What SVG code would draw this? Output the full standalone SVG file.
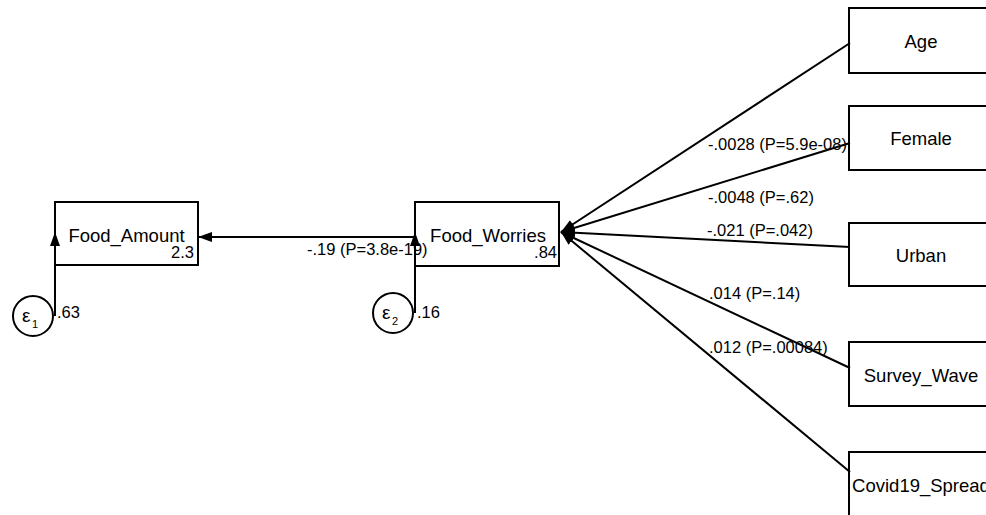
<svg xmlns="http://www.w3.org/2000/svg" width="986" height="515" viewBox="0 0 986 515">
<style>
.box{fill:#fff;stroke:#000;stroke-width:2}
.err{fill:#fff;stroke:#000;stroke-width:2}
.lbl{font-family:"Liberation Sans",Arial,sans-serif;font-size:18.5px;fill:#000;text-anchor:middle}
.num{font-family:"Liberation Sans",Arial,sans-serif;font-size:16.5px;fill:#000}
.edge{stroke:#000;stroke-width:2;fill:none;marker-end:url(#ah)}
.eps{font-family:"Liberation Sans",Arial,sans-serif;font-size:19px;fill:#000}
.sub{font-family:"Liberation Sans",Arial,sans-serif;font-size:11px;fill:#000}
</style>
<defs>
<marker id="ah" viewBox="0 0 14 10" refX="14" refY="5" markerWidth="14" markerHeight="10" markerUnits="userSpaceOnUse" orient="auto">
<path d="M0,0 L14,5 L0,10 Z" fill="#000"/>
</marker>
</defs>
<rect width="986" height="515" fill="#fff"/>
<g id="Food_Amount">
<rect class="box" x="55" y="202" width="143" height="63"/>
<text class="lbl" x="126.5" y="242">Food_Amount</text>
<text class="num" x="194" y="258" text-anchor="end">2.3</text>
</g>
<g id="Food_Worries">
<rect class="box" x="415" y="202" width="144" height="64"/>
<text class="lbl" x="488" y="242">Food_Worries</text>
<text class="num" x="557" y="258" text-anchor="end">.84</text>
</g>
<g id="e1">
<circle class="err" cx="33" cy="316" r="20"/>
<text class="eps" x="22" y="322">ε</text>
<text class="sub" x="32" y="328">1</text>
<text class="num" x="57" y="318">.63</text>
</g>
<g id="e2">
<circle class="err" cx="393" cy="313" r="20"/>
<text class="eps" x="382" y="319">ε</text>
<text class="sub" x="392" y="325">2</text>
<text class="num" x="417" y="318">.16</text>
</g>
<g id="Age">
<rect class="box" x="849" y="8" width="144" height="65"/>
<text class="lbl" x="921" y="48">Age</text>
</g>
<g id="Female">
<rect class="box" x="849" y="106" width="144" height="64"/>
<text class="lbl" x="921" y="145">Female</text>
</g>
<g id="Urban">
<rect class="box" x="849" y="223" width="144" height="63"/>
<text class="lbl" x="921" y="262">Urban</text>
</g>
<g id="Survey_Wave">
<rect class="box" x="849" y="342" width="144" height="64"/>
<text class="lbl" x="921" y="382">Survey_Wave</text>
</g>
<g id="Covid19_Spread">
<rect class="box" x="849" y="452" width="144" height="64"/>
<text class="lbl" x="921" y="492">Covid19_Spread</text>
</g>
<g id="connectors">
<line class="edge" x1="415" y1="237" x2="198" y2="237"/>
<line class="edge" x1="55" y1="316" x2="55" y2="232"/>
<line class="edge" x1="415" y1="313" x2="415" y2="232"/>
<line class="edge" x1="850" y1="43" x2="561" y2="232"/>
<line class="edge" x1="850" y1="143" x2="561" y2="232"/>
<line class="edge" x1="850" y1="247" x2="561" y2="232"/>
<line class="edge" x1="850" y1="368" x2="561" y2="232"/>
<line class="edge" x1="850" y1="472" x2="561" y2="232"/>
<text class="num" x="307" y="255">-.19 (P=3.8e-19)</text>
<text class="num" x="708" y="150">-.0028 (P=5.9e-08)</text>
<text class="num" x="708" y="203">-.0048 (P=.62)</text>
<text class="num" x="707" y="236">-.021 (P=.042)</text>
<text class="num" x="709" y="299">.014 (P=.14)</text>
<text class="num" x="709" y="353">.012 (P=.00084)</text>
</g>
</svg>
